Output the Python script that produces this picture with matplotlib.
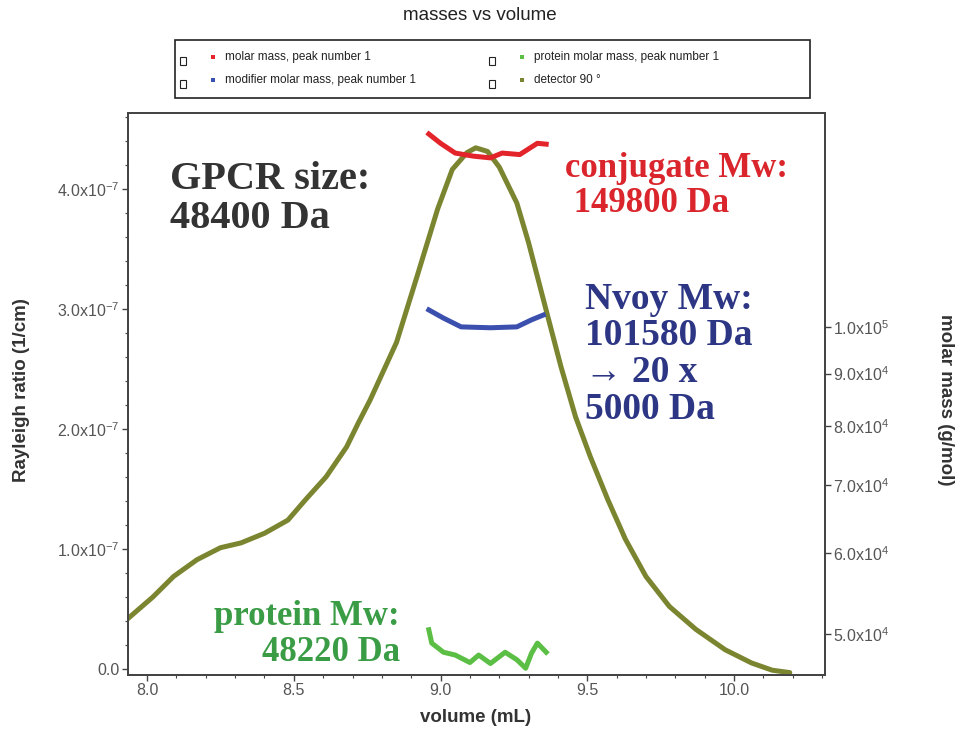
import numpy as np
import matplotlib
matplotlib.use("Agg")
import matplotlib.pyplot as plt
from matplotlib.patches import Rectangle
from matplotlib.ticker import FixedLocator, MultipleLocator, NullLocator, FuncFormatter

plt.rcParams["font.family"] = ["Liberation Sans", "DejaVu Sans"]
plt.rcParams["mathtext.default"] = "regular"

# detector 90 deg trace (Rayleigh ratio, units of 1e-7 1/cm)
detector_volume = [7.93, 8.02, 8.09, 8.17, 8.25, 8.32, 8.40, 8.48, 8.54, 8.61,
                   8.68, 8.72, 8.76, 8.85, 8.92, 8.99, 9.04, 9.09, 9.12, 9.16,
                   9.20, 9.26, 9.30, 9.35, 9.41, 9.46, 9.51, 9.57, 9.63, 9.70,
                   9.78, 9.87, 9.97, 10.06, 10.13, 10.19]
detector_signal = [0.41, 0.60, 0.77, 0.91, 1.01, 1.05, 1.13, 1.24, 1.41, 1.60,
                   1.85, 2.05, 2.24, 2.72, 3.27, 3.83, 4.16, 4.30, 4.34, 4.31,
                   4.18, 3.88, 3.55, 3.08, 2.52, 2.10, 1.77, 1.41, 1.08, 0.77,
                   0.52, 0.33, 0.16, 0.05, -0.01, -0.03]

# molar mass traces (g/mol)
conj_volume = [8.96, 9.00, 9.05, 9.11, 9.17, 9.21, 9.27, 9.30, 9.33, 9.36]
conj_mass = [154500, 151300, 148000, 147000, 146400, 148000, 147500, 149400, 151300, 151000]

mod_volume = [8.96, 9.01, 9.07, 9.17, 9.26, 9.31, 9.35]
mod_mass = [103900, 102000, 100000, 99800, 100000, 101600, 102700]

prot_volume = [8.96, 8.97, 9.01, 9.05, 9.10, 9.13, 9.17, 9.22, 9.26, 9.29, 9.31, 9.33, 9.36]
prot_mass = [50500, 49000, 48000, 47700, 46900, 47700, 46800, 48000, 47200, 46300, 47900, 49000, 48000]

left_ticks = [0, 1, 2, 3, 4]
right_ticks = [50000, 60000, 70000, 80000, 90000, 100000]

c_red = "#e3242b"
c_blue = "#3b4fae"
c_green = "#5cbf45"
c_olive = "#7b8530"
tick_col = "#555555"

W, H = 963, 731
fig = plt.figure(figsize=(W / 100, H / 100), dpi=100)
ax = fig.add_axes([128 / W, 1 - 675 / H, 697 / W, 562 / H])

ax.plot(detector_volume, detector_signal, color=c_olive, lw=3.6, solid_capstyle="round", zorder=3)
ax.set_xlim(7.935, 10.31)
ax.set_ylim(-0.05, 4.63)

ax2 = ax.twinx()
ax2.set_yscale("log")
ax2.plot(conj_volume, conj_mass, color=c_red, lw=3.6, zorder=2)
ax2.plot(mod_volume, mod_mass, color=c_blue, lw=3.6, zorder=2)
ax2.plot(prot_volume, prot_mass, color=c_green, lw=3.6, zorder=2)
ax2.set_ylim(45600, 162000)
ax2.yaxis.set_major_locator(FixedLocator(right_ticks))
ax2.yaxis.set_minor_locator(NullLocator())


def sci_right(v, pos):
    e = int(np.floor(np.log10(v) + 1e-9))
    return r"%.1fx10$^{%d}$" % (v / 10 ** e, e)


def sci_left(v, pos):
    if abs(v) < 1e-9:
        return "0.0"
    return r"%.1fx10$^{-7}$" % v


ax2.yaxis.set_major_formatter(FuncFormatter(sci_right))
ax.yaxis.set_major_locator(FixedLocator(left_ticks))
ax.yaxis.set_minor_locator(MultipleLocator(0.2))
ax.yaxis.set_major_formatter(FuncFormatter(sci_left))
ax.xaxis.set_major_locator(MultipleLocator(0.5))
ax.xaxis.set_minor_locator(MultipleLocator(0.1))
ax.xaxis.set_major_formatter(FuncFormatter(lambda v, p: "%.1f" % v))

for a in (ax, ax2):
    for s in a.spines.values():
        s.set_color("#444444")
        s.set_linewidth(1.3)
ax.tick_params(which="major", length=4, width=1, color="#444444", labelsize=11.5, labelcolor=tick_col, pad=2)
ax.tick_params(which="minor", length=2.5, width=0.8, color="#444444")
ax2.tick_params(which="major", length=4, width=1, color="#444444", labelsize=11.5, labelcolor=tick_col, pad=2)

# annotations
ax.text(0.060, 0.914, "GPCR size:\n48400 Da", transform=ax.transAxes, ha="left", va="top",
        family="Liberation Serif", weight="bold", fontsize=29, color="#333333", linespacing=1.05)
ax.text(0.627, 0.930, "conjugate Mw:\n 149800 Da", transform=ax.transAxes, ha="left", va="top",
        family="Liberation Serif", weight="bold", fontsize=25, color="#d9252b", linespacing=1.05)
ax.text(0.656, 0.700, "Nvoy Mw:\n101580 Da\n\u2192 20 x\n5000 Da", transform=ax.transAxes,
        ha="left", va="top", family=["Liberation Serif", "DejaVu Serif"], weight="bold",
        fontsize=27, color="#2d3684", linespacing=1.07)
ax.text(0.390, 0.134, "protein Mw:\n48220 Da", transform=ax.transAxes, ha="right", va="top",
        multialignment="right", family="Liberation Serif", weight="bold", fontsize=25,
        color="#3a9c45", linespacing=1.15)

# axis labels and title
fig.text(22 / W, 1 - 390 / H, "Rayleigh ratio (1/cm)", rotation=90, ha="center", va="center",
         fontsize=13.5, weight="bold", color="#333333")
fig.text(476 / W, 1 - 718 / H, "volume (mL)", ha="center", va="center",
         fontsize=13.5, weight="bold", color="#333333")
fig.text(945 / W, 1 - 400 / H, "molar mass (g/mol)", rotation=-90, ha="center", va="center",
         fontsize=13.5, weight="bold", color="#333333")
fig.text(480 / W, 1 - 16 / H, "masses vs volume", ha="center", va="center", fontsize=13.5, color="#222222")

# legend box drawn in figure pixels
fig.add_artist(Rectangle((175 / W, 1 - 98 / H), 635 / W, 58 / H, transform=fig.transFigure,
                         fill=False, edgecolor="#222222", lw=1.2))
legend_items = [
    ("molar mass, peak number 1", c_red, 183, 57),
    ("modifier molar mass, peak number 1", c_blue, 183, 80),
    ("protein molar mass, peak number 1", c_green, 492, 57),
    ("detector 90 \u00b0", c_olive, 492, 80),
]
for label, col, x0, y0 in legend_items:
    fig.add_artist(Rectangle(((x0 - 3) / W, 1 - (y0 + 8) / H), 6 / W, 8 / H, transform=fig.transFigure,
                             fill=False, edgecolor="#222222", lw=0.8))
    fig.add_artist(Rectangle(((x0 + 28) / W, 1 - (y0 + 2) / H), 4 / W, 4 / H, transform=fig.transFigure,
                             facecolor=col, edgecolor="none"))
    fig.text((x0 + 42) / W, 1 - y0 / H, label, ha="left", va="center", fontsize=8.5, color="#222222")

fig.savefig("out.png", dpi=100)
